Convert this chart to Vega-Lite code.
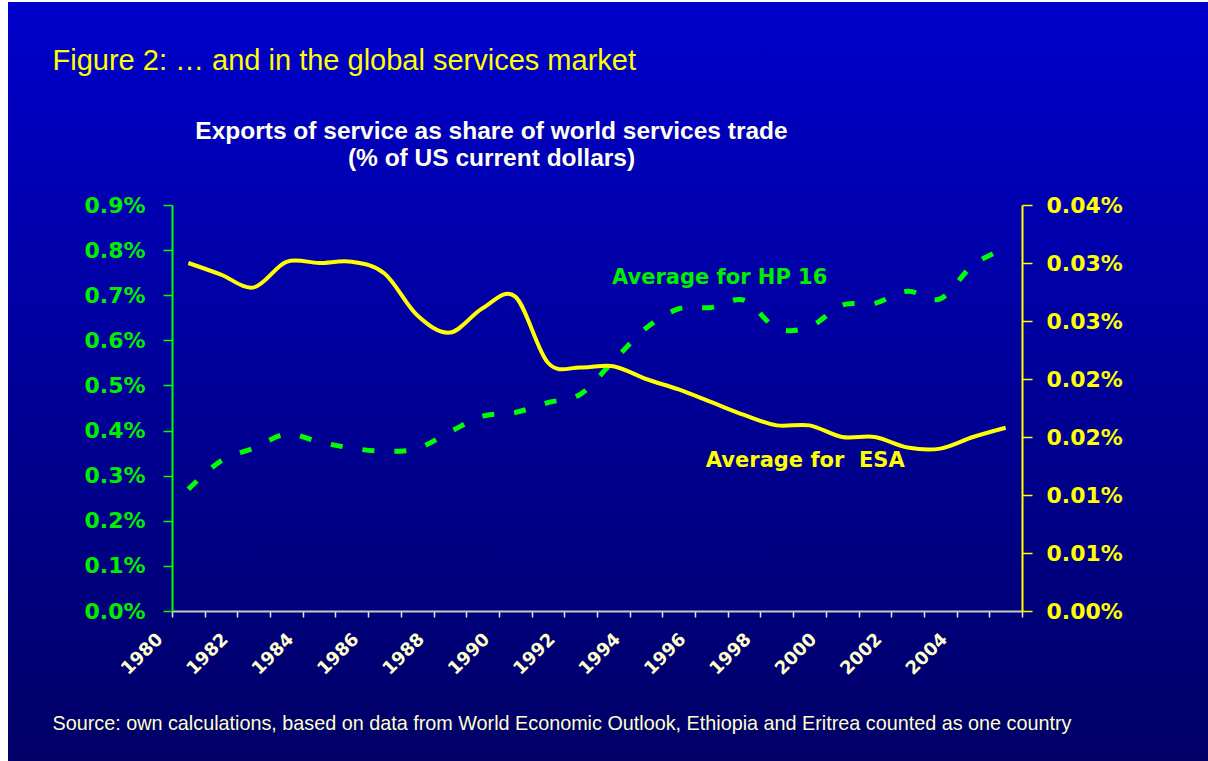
{
  "$schema": "https://vega.github.io/schema/vega-lite/v6.json",
  "width": 1200,
  "height": 759,
  "autosize": {"type": "none"},
  "padding": {"left": 8, "top": 2, "right": 0, "bottom": 0},
  "background": "#ffffff",
  "config": {
    "view": {
      "stroke": null,
      "fill": {"expr": "({gradient: 'linear', x1: 0, y1: 0, x2: 0, y2: 1, stops: [{offset: 0, color: '#0000cc'}, {offset: 1, color: '#000066'}]})"}
    }
  },
  "datasets": {
    "hp16": [
      {"year": 1980, "value": 0.270}, {"year": 1981, "value": 0.333}, {"year": 1982, "value": 0.361},
      {"year": 1983, "value": 0.392}, {"year": 1984, "value": 0.375}, {"year": 1985, "value": 0.361},
      {"year": 1986, "value": 0.354}, {"year": 1987, "value": 0.360}, {"year": 1988, "value": 0.397},
      {"year": 1989, "value": 0.432}, {"year": 1990, "value": 0.440}, {"year": 1991, "value": 0.462},
      {"year": 1992, "value": 0.481}, {"year": 1993, "value": 0.554}, {"year": 1994, "value": 0.627},
      {"year": 1995, "value": 0.670}, {"year": 1996, "value": 0.673}, {"year": 1997, "value": 0.689},
      {"year": 1998, "value": 0.627}, {"year": 1999, "value": 0.630}, {"year": 2000, "value": 0.678},
      {"year": 2001, "value": 0.682}, {"year": 2002, "value": 0.709}, {"year": 2003, "value": 0.692},
      {"year": 2004, "value": 0.767}, {"year": 2005, "value": 0.804}
    ],
    "esa": [
      {"year": 1980, "value": 0.0300}, {"year": 1981, "value": 0.0290}, {"year": 1982, "value": 0.0279},
      {"year": 1983, "value": 0.0301}, {"year": 1984, "value": 0.0300}, {"year": 1985, "value": 0.0301},
      {"year": 1986, "value": 0.0291}, {"year": 1987, "value": 0.0255}, {"year": 1988, "value": 0.0240},
      {"year": 1989, "value": 0.0261}, {"year": 1990, "value": 0.0271}, {"year": 1991, "value": 0.0214},
      {"year": 1992, "value": 0.0210}, {"year": 1993, "value": 0.0211}, {"year": 1994, "value": 0.0200},
      {"year": 1995, "value": 0.0191}, {"year": 1996, "value": 0.0180}, {"year": 1997, "value": 0.0169},
      {"year": 1998, "value": 0.0160}, {"year": 1999, "value": 0.0160}, {"year": 2000, "value": 0.0150},
      {"year": 2001, "value": 0.0150}, {"year": 2002, "value": 0.0141}, {"year": 2003, "value": 0.0140},
      {"year": 2004, "value": 0.0150}, {"year": 2005, "value": 0.0158}
    ],
    "hp16_label": [{"year": 1992.96, "value": 0.725, "label": "Average for HP 16"}],
    "esa_label": [{"year": 1995.83, "value": 0.01244, "label": "Average for\u00a0 ESA"}]
  },
  "encoding": {
    "x": {
      "field": "year",
      "type": "quantitative",
      "scale": {"domain": [1979.5, 2005.5], "range": [164, 1014], "nice": false, "zero": false},
      "axis": {
        "orient": "bottom",
        "offset": -150,
        "values": [1979.5, 1980, 1980.5, 1981.5, 1982, 1982.5, 1983.5, 1984, 1984.5, 1985.5, 1986, 1986.5, 1987.5, 1988, 1988.5, 1989.5, 1990, 1990.5, 1991.5, 1992, 1992.5, 1993.5, 1994, 1994.5, 1995.5, 1996, 1996.5, 1997.5, 1998, 1998.5, 1999.5, 2000, 2000.5, 2001.5, 2002, 2002.5, 2003.5, 2004, 2004.5, 2005.5],
        "labelExpr": "datum.value % 1 === 0 ? '' + datum.value : ''",
        "tickOpacity": {"condition": {"test": "datum.value % 1 === 0", "value": 0}, "value": 1},
        "labelAngle": -45,
        "labelAlign": "right",
        "labelBaseline": "top",
        "labelOffset": -35,
        "labelPadding": 13,
        "labelFont": "DejaVu Sans",
        "labelFontWeight": "bold",
        "labelFontSize": 18,
        "labelColor": "#ffffcc",
        "labelOverlap": false,
        "labelFlush": false,
        "domainColor": "#c8c8c8",
        "domainWidth": 2,
        "tickColor": "#e8e8e8",
        "tickWidth": 1.5,
        "tickSize": 6,
        "grid": false,
        "title": "Source: own calculations, based on data from World Economic Outlook, Ethiopia and Eritrea counted as one country",
        "titleX": 44,
        "titleY": 118,
        "titleAlign": "left",
        "titleAnchor": "start",
        "titleBaseline": "alphabetic",
        "titleFont": "Liberation Sans",
        "titleFontSize": 19.8,
        "titleFontWeight": "normal",
        "titleColor": "#ffffcc"
      }
    }
  },
  "layer": [
    {
      "encoding": {
        "y": {
          "field": "value",
          "type": "quantitative",
          "scale": {"domain": [0, 0.9], "range": [609, 203], "nice": false, "zero": true},
          "axis": {
            "orient": "left",
            "offset": -164,
            "values": [0, 0.1, 0.2, 0.3, 0.4, 0.5, 0.6, 0.7, 0.8, 0.9],
            "labelExpr": "format(datum.value, '.1f') + '%'",
            "labelFont": "DejaVu Sans",
            "labelFontWeight": "bold",
            "labelFontSize": 22,
            "labelColor": "#00ee00",
            "labelPadding": 18,
            "labelBaseline": "middle",
            "tickSize": 9,
            "tickColor": "#00ff00",
            "tickWidth": 1.5,
            "domainColor": "#00ff00",
            "domainWidth": 2,
            "grid": false,
            "title": "Figure 2: … and in the global services market",
            "titleAngle": 0,
            "titleX": -120,
            "titleY": 67,
            "titleAlign": "left",
            "titleBaseline": "alphabetic",
            "titleFont": "Liberation Sans",
            "titleFontSize": 29,
            "titleFontWeight": "normal",
            "titleColor": "#ffff00"
          }
        }
      },
      "layer": [
        {
          "data": {"name": "hp16"},
          "mark": {"type": "line", "color": "#00ff00", "strokeWidth": 5, "strokeDash": [12, 20], "interpolate": "cardinal", "tension": 0}
        },
        {
          "data": {"name": "hp16_label"},
          "mark": {"type": "text", "align": "left", "baseline": "alphabetic", "font": "DejaVu Sans", "fontWeight": "bold", "fontSize": 21, "color": "#00ee00"},
          "encoding": {"text": {"field": "label"}}
        }
      ]
    },
    {
      "encoding": {
        "y": {
          "field": "value",
          "type": "quantitative",
          "scale": {"domain": [0, 0.035], "range": [609, 203], "nice": false, "zero": true},
          "axis": {
            "orient": "right",
            "offset": -186,
            "values": [0, 0.005, 0.01, 0.015, 0.02, 0.025, 0.03, 0.035],
            "labelExpr": "format(datum.value + 1e-9, '.2f') + '%'",
            "labelFont": "DejaVu Sans",
            "labelFontWeight": "bold",
            "labelFontSize": 22,
            "labelColor": "#ffff00",
            "labelPadding": 14,
            "labelBaseline": "middle",
            "tickSize": 10,
            "tickColor": "#ffff00",
            "tickWidth": 1.5,
            "domainColor": "#ffff00",
            "domainWidth": 2,
            "grid": false,
            "title": ["Exports of service as share of world services trade", "(% of US current dollars)"],
            "titleAngle": 0,
            "titleX": -531,
            "titleY": 136,
            "titleAlign": "center",
            "titleBaseline": "alphabetic",
            "titleLineHeight": 27,
            "titleFont": "Liberation Sans",
            "titleFontSize": 24.5,
            "titleFontWeight": "bold",
            "titleColor": "#ffffee"
          }
        }
      },
      "layer": [
        {
          "data": {"name": "esa"},
          "mark": {"type": "line", "color": "#ffff00", "strokeWidth": 4, "interpolate": "cardinal", "tension": 0}
        },
        {
          "data": {"name": "esa_label"},
          "mark": {"type": "text", "align": "left", "baseline": "alphabetic", "font": "DejaVu Sans", "fontWeight": "bold", "fontSize": 21, "color": "#ffff00"},
          "encoding": {"text": {"field": "label"}}
        }
      ]
    }
  ],
  "resolve": {"scale": {"y": "independent"}, "axis": {"y": "independent"}}
}
